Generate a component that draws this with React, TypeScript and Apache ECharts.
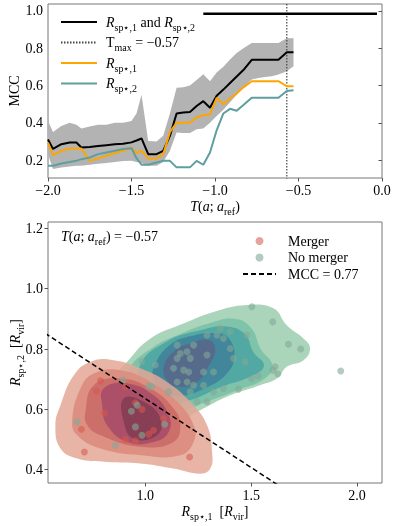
import React, { useEffect, useRef } from "react";
import * as echarts from "echarts";

const SERIF = "'Liberation Serif', 'DejaVu Serif', 'Times New Roman', serif";

// ---------- top panel data ----------
const T_VALUES = [-2.0, -1.97, -1.92, -1.87, -1.83, -1.8, -1.75, -1.7, -1.65, -1.6, -1.55, -1.5, -1.47, -1.44, -1.4, -1.35, -1.31, -1.27, -1.23, -1.19, -1.15, -1.11, -1.07, -1.03, -0.99, -0.95, -0.91, -0.87, -0.83, -0.78, -0.74, -0.7, -0.66, -0.62, -0.57, -0.53];
const MCC_BOTH = [0.31, 0.26, 0.285, 0.294, 0.294, 0.268, 0.27, 0.275, 0.28, 0.285, 0.288, 0.295, 0.305, 0.316, 0.232, 0.232, 0.25, 0.33, 0.45, 0.455, 0.458, 0.49, 0.516, 0.481, 0.545, 0.578, 0.613, 0.648, 0.683, 0.738, 0.738, 0.738, 0.738, 0.738, 0.778, 0.778];
const MCC_R1 = [0.294, 0.227, 0.25, 0.262, 0.262, 0.262, 0.196, 0.209, 0.223, 0.238, 0.25, 0.265, 0.238, 0.25, 0.209, 0.209, 0.232, 0.35, 0.4, 0.4, 0.4, 0.43, 0.44, 0.445, 0.534, 0.499, 0.53, 0.557, 0.59, 0.623, 0.623, 0.623, 0.623, 0.623, 0.596, 0.596];
const MCC_R2 = [0.17, 0.17, 0.182, 0.19, 0.196, 0.205, 0.214, 0.232, 0.241, 0.25, 0.259, 0.264, 0.21, 0.175, 0.175, 0.187, 0.196, 0.196, 0.161, 0.161, 0.161, 0.196, 0.175, 0.241, 0.36, 0.45, 0.475, 0.465, 0.495, 0.534, 0.534, 0.534, 0.534, 0.534, 0.57, 0.575];
const BAND_HIGH = [0.41, 0.35, 0.383, 0.4, 0.39, 0.37, 0.38, 0.39, 0.39, 0.4, 0.4, 0.41, 0.45, 0.55, 0.303, 0.3, 0.33, 0.45, 0.588, 0.59, 0.6, 0.63, 0.66, 0.623, 0.67, 0.7, 0.74, 0.774, 0.8, 0.828, 0.828, 0.828, 0.828, 0.828, 0.854, 0.854];
const BAND_LOW = [0.232, 0.152, 0.16, 0.165, 0.17, 0.17, 0.175, 0.18, 0.185, 0.19, 0.195, 0.196, 0.19, 0.185, 0.17, 0.17, 0.19, 0.25, 0.348, 0.345, 0.345, 0.365, 0.37, 0.4, 0.436, 0.47, 0.51, 0.55, 0.59, 0.632, 0.64, 0.645, 0.65, 0.659, 0.676, 0.703];
const T_MAX = -0.57;
const TMAX_SPAN = [0.0, 1.2];
const REF_LINE = [[-1.07, 0.985], [-0.03, 0.985]];
const TOP_Y_TICKS = [0.2, 0.4, 0.6, 0.8, 1.0];

// ---------- bottom panel data ----------
const MERGER = [
  [0.788, 0.695], [0.769, 0.661], [0.807, 0.588], [0.698, 0.534], [0.712, 0.459],
  [0.906, 0.675], [0.953, 0.622], [0.984, 0.6], [0.906, 0.5], [0.953, 0.496],
  [1.016, 0.518], [1.039, 0.531], [1.086, 0.57], [1.209, 0.442],
];
const NO_MERGER = [
  [0.678, 0.559], [0.858, 0.481], [0.895, 0.697], [0.961, 0.614], [0.934, 0.594],
  [0.953, 0.542], [0.984, 0.514], [1.091, 0.551], [1.016, 0.677], [1.031, 0.675],
  [0.984, 0.758], [1.047, 0.747], [1.11, 0.658], [1.15, 0.813], [1.165, 0.785],
  [1.197, 0.791], [1.228, 0.813], [1.15, 0.769], [1.181, 0.73], [1.205, 0.724],
  [1.15, 0.691], [1.197, 0.691], [1.228, 0.68], [1.212, 0.658], [1.291, 0.625],
  [1.275, 0.68], [1.322, 0.724], [1.291, 0.78], [1.338, 0.846], [1.133, 0.736],
  [1.322, 0.658], [1.503, 0.94], [1.602, 0.89], [1.676, 0.816], [1.734, 0.8],
  [1.602, 0.73], [1.626, 0.717], [1.613, 0.741], [1.503, 0.702], [1.534, 0.711],
  [1.44, 0.667], [1.369, 0.669], [1.244, 0.625], [1.354, 0.868], [1.401, 0.857],
  [1.48, 0.846], [1.369, 0.835], [1.401, 0.802], [1.417, 0.769], [1.472, 0.758],
  [1.291, 0.846], [1.212, 0.769], [1.275, 0.724], [1.923, 0.727],
];
// KDE level contours (outermost first)
const MERGER_LEVELS = [
  [[0.575, 0.548], [0.599, 0.614], [0.662, 0.713], [0.741, 0.758], [0.85, 0.763], [0.976, 0.736], [1.102, 0.691], [1.212, 0.625], [1.291, 0.548], [1.315, 0.459], [1.307, 0.404], [1.259, 0.387], [1.133, 0.404], [0.976, 0.421], [0.819, 0.426], [0.678, 0.437], [0.599, 0.47]],
  [[0.654, 0.559], [0.693, 0.669], [0.756, 0.719], [0.882, 0.73], [1.024, 0.691], [1.15, 0.625], [1.228, 0.548], [1.228, 0.492], [1.165, 0.448], [0.976, 0.448], [0.788, 0.47], [0.678, 0.514]],
  [[0.717, 0.592], [0.756, 0.68], [0.882, 0.702], [1.024, 0.669], [1.133, 0.603], [1.165, 0.548], [1.133, 0.492], [0.976, 0.476], [0.788, 0.514], [0.725, 0.548]],
  [[0.796, 0.614], [0.803, 0.669], [0.914, 0.686], [1.039, 0.647], [1.11, 0.581], [1.11, 0.525], [1.039, 0.492], [0.914, 0.492], [0.819, 0.548]],
  [[0.898, 0.636], [0.992, 0.625], [1.071, 0.57], [1.055, 0.514], [0.945, 0.503], [0.898, 0.559]],
];
const NO_MERGER_LEVELS = [
  [[0.866, 0.713], [0.914, 0.758], [1.024, 0.835], [1.181, 0.885], [1.322, 0.923], [1.48, 0.946], [1.605, 0.935], [1.668, 0.879], [1.747, 0.835], [1.778, 0.802], [1.747, 0.763], [1.668, 0.741], [1.621, 0.702], [1.542, 0.68], [1.401, 0.647], [1.244, 0.592], [1.165, 0.564], [1.06, 0.58], [0.96, 0.62], [0.88, 0.67]],
  [[0.92, 0.725], [1.024, 0.8], [1.181, 0.855], [1.3, 0.885], [1.42, 0.9], [1.5, 0.87], [1.545, 0.8], [1.6, 0.745], [1.56, 0.7], [1.44, 0.665], [1.29, 0.625], [1.165, 0.595], [1.05, 0.61], [0.96, 0.66]],
  [[0.976, 0.747], [1.102, 0.825], [1.259, 0.862], [1.38, 0.875], [1.47, 0.85], [1.51, 0.79], [1.56, 0.745], [1.5, 0.71], [1.36, 0.675], [1.21, 0.63], [1.1, 0.62], [1.0, 0.66]],
  [[1.04, 0.74], [1.11, 0.81], [1.21, 0.842], [1.34, 0.852], [1.4, 0.83], [1.42, 0.77], [1.38, 0.715], [1.28, 0.67], [1.17, 0.645], [1.08, 0.66], [1.04, 0.7]],
  [[1.086, 0.736], [1.133, 0.791], [1.212, 0.818], [1.3, 0.83], [1.33, 0.8], [1.3, 0.745], [1.244, 0.691], [1.165, 0.675], [1.11, 0.69]],
];
const DIVIDER = [[0.4, 0.91], [1.8, 0.27]];
const MCC_BEST = "0.77";
const T_SNAPSHOT = "−0.57";
const BOT_X_TICKS = [1.0, 1.5, 2.0];
const BOT_Y_TICKS = [0.4, 0.6, 0.8, 1.0, 1.2];

const RED_FILLS = ["rgba(228,167,149,0.85)", "rgba(220,139,124,0.85)", "rgba(202,104,101,0.85)", "rgba(164,75,105,0.85)", "rgba(129,59,81,0.85)"];
const TEAL_FILLS = ["#aad5ba", "#7fc3ab", "#52a8a2", "#41869a", "#566a8c"];

const RICH: any = {
  i: { fontStyle: "italic", fontSize: 14, fontFamily: SERIF, lineHeight: 20, color: "#000" },
  n: { fontSize: 14, fontFamily: SERIF, lineHeight: 20, color: "#000" },
  s: { fontSize: 10, fontFamily: SERIF, lineHeight: 10, verticalAlign: "bottom", color: "#000" },
};
const R1 = "{i|R}{s|sp⋆,1}";
const R2 = "{i|R}{s|sp⋆,2}";
const TOP_LEGEND: Record<string, string> = {
  both: `${R1}{n| and }${R2}`,
  tmax: `{n|T}{s|max}{n| = −0.57}`,
  r1: R1,
  r2: R2,
};
const BOT_LEGEND: Record<string, string> = {
  Merger: "{n|Merger}",
  "No merger": "{n|No merger}",
  mcc: `{n|MCC = ${MCC_BEST}}`,
};

const fmt = (v: number) => v.toFixed(1).replace("-", "−");
const noSym = { itemStyle: { opacity: 0 } };

export default function App() {
  const ref = useRef<HTMLDivElement>(null);
  useEffect(() => {
    if (!ref.current) return;
    const chart = echarts.init(ref.current, undefined, { renderer: "svg" });
    const axisCommon = (ticks?: number[]) => ({
      type: "value",
      axisLine: { show: false },
      splitLine: { show: false },
      nameMoveOverlap: false,
      axisTick: { show: true, length: 3.5, lineStyle: { color: "#555" }, ...(ticks ? { customValues: ticks } : {}) },
      axisLabel: { color: "#000", fontSize: 14, fontFamily: SERIF, margin: 5, formatter: fmt, ...(ticks ? { customValues: ticks } : {}) },
      nameTextStyle: { rich: RICH },
    });
    const polySeries = (levels: number[][][], fills: string[], z: number) => ({
      type: "custom",
      xAxisIndex: 1,
      yAxisIndex: 1,
      z,
      silent: true,
      clip: true,
      data: levels.map((poly, i) => [poly[0][0], poly[0][1], i]),
      renderItem: (_p: any, api: any) => {
        const idx = api.value(2);
        return {
          type: "polygon",
          shape: { points: levels[idx].map((pt) => api.coord(pt)), smooth: 0.45 },
          style: { fill: fills[idx] },
        };
      },
    });
    const option: any = {
      animation: false,
      textStyle: { fontFamily: SERIF },
      grid: [
        { left: 48, top: 4, width: 334, height: 174, show: true, borderColor: "#777", borderWidth: 1, outerBoundsMode: "none", containLabel: false },
        { left: 48, top: 222, width: 334, height: 261, show: true, borderColor: "#777", borderWidth: 1, outerBoundsMode: "none", containLabel: false },
      ],
      xAxis: [
        { ...axisCommon(), gridIndex: 0, min: -2, max: 0, interval: 0.5, name: "{i|T}{n|(}{i|a}{n|; }{i|a}{s|ref}{n|)}", nameLocation: "middle", nameGap: 18 },
        { ...axisCommon(BOT_X_TICKS), gridIndex: 1, min: 0.54, max: 2.118, name: `${R1}{n|  [}{i|R}{s|vir}{n|]}`, nameLocation: "middle", nameGap: 18 },
      ],
      yAxis: [
        { ...axisCommon(TOP_Y_TICKS), gridIndex: 0, min: 0.104, max: 1.037, name: "{n|MCC}", nameLocation: "middle", nameGap: 24 },
        { ...axisCommon(BOT_Y_TICKS), gridIndex: 1, min: 0.356, max: 1.221, name: `${R2}{n|  [}{i|R}{s|vir}{n|]}`, nameLocation: "middle", nameGap: 23 },
      ],
      legend: [
        {
          data: [{ name: "both", ...noSym }, { name: "tmax", ...noSym }, { name: "r1", ...noSym }, { name: "r2", ...noSym }],
          orient: "vertical",
          left: 60,
          top: 15,
          padding: 0,
          itemWidth: 36,
          itemHeight: 12,
          itemGap: 3.5,
          selectedMode: false,
          formatter: (n: string) => TOP_LEGEND[n],
          textStyle: { rich: RICH, padding: [0, 0, 0, 4] },
        },
        {
          data: ["Merger", "No merger", { name: "mcc", ...noSym }],
          orient: "vertical",
          left: 242,
          top: 234,
          padding: 0,
          itemWidth: 33,
          itemHeight: 8,
          itemGap: 2.5,
          selectedMode: false,
          formatter: (n: string) => BOT_LEGEND[n],
          textStyle: { rich: RICH, padding: [0, 0, 0, 7] },
        },
      ],
      graphic: [
        {
          type: "text",
          left: 61,
          top: 229,
          style: { text: `{i|T}{n|(}{i|a}{n|; }{i|a}{s|ref}{n|) = ${T_SNAPSHOT}}`, rich: RICH },
        },
      ],
      series: [
        {
          name: "band",
          type: "custom",
          xAxisIndex: 0,
          yAxisIndex: 0,
          silent: true,
          clip: true,
          z: 1,
          data: [[T_VALUES[0], BAND_LOW[0]]],
          renderItem: (_p: any, api: any) => {
            const upper = T_VALUES.map((t, i) => api.coord([t, BAND_HIGH[i]]));
            const lower = T_VALUES.map((t, i) => api.coord([t, BAND_LOW[i]])).reverse();
            return { type: "polygon", shape: { points: upper.concat(lower) }, style: { fill: "#b3b3b3" } };
          },
        },
        {
          name: "both",
          type: "line",
          xAxisIndex: 0,
          yAxisIndex: 0,
          symbol: "none",
          color: "#000",
          lineStyle: { color: "#000", width: 2 },
          data: T_VALUES.map((t, i) => [t, MCC_BOTH[i]]),
          z: 3,
        },
        {
          name: "tmax",
          type: "line",
          xAxisIndex: 0,
          yAxisIndex: 0,
          symbol: "none",
          color: "#444",
          lineStyle: { color: "#444", width: 1.2, type: [1.5, 1.5] },
          data: TMAX_SPAN.map((y) => [T_MAX, y]),
          z: 2,
        },
        {
          name: "r1",
          type: "line",
          xAxisIndex: 0,
          yAxisIndex: 0,
          symbol: "none",
          color: "#ffa500",
          lineStyle: { color: "#ffa500", width: 2 },
          data: T_VALUES.map((t, i) => [t, MCC_R1[i]]),
          z: 3,
        },
        {
          name: "r2",
          type: "line",
          xAxisIndex: 0,
          yAxisIndex: 0,
          symbol: "none",
          color: "#5f9ea0",
          lineStyle: { color: "#5f9ea0", width: 2 },
          data: T_VALUES.map((t, i) => [t, MCC_R2[i]]),
          z: 3,
        },
        {
          name: "ref",
          type: "line",
          xAxisIndex: 0,
          yAxisIndex: 0,
          symbol: "none",
          color: "#000",
          lineStyle: { color: "#000", width: 2.5 },
          data: REF_LINE,
          z: 3,
        },
        polySeries(NO_MERGER_LEVELS, TEAL_FILLS, 1),
        polySeries(MERGER_LEVELS, RED_FILLS, 2),
        {
          name: "Merger",
          type: "scatter",
          xAxisIndex: 1,
          yAxisIndex: 1,
          symbolSize: 7,
          color: "rgba(214,88,76,0.7)",
          itemStyle: { color: "rgba(214,88,76,0.7)" },
          data: MERGER,
          z: 3,
        },
        {
          name: "No merger",
          type: "scatter",
          xAxisIndex: 1,
          yAxisIndex: 1,
          symbolSize: 7,
          color: "rgba(130,168,150,0.75)",
          itemStyle: { color: "rgba(130,168,150,0.75)" },
          data: NO_MERGER,
          z: 4,
        },
        {
          name: "mcc",
          type: "line",
          xAxisIndex: 1,
          yAxisIndex: 1,
          symbol: "none",
          color: "#000",
          lineStyle: { color: "#000", width: 1.5, type: [5, 3] },
          data: DIVIDER,
          z: 5,
        },
      ],
    };
    chart.setOption(option);
    return () => chart.dispose();
  }, []);
  return <div ref={ref} style={{ position: "fixed", left: 0, top: 0, width: 396, height: 526 }} />;
}
